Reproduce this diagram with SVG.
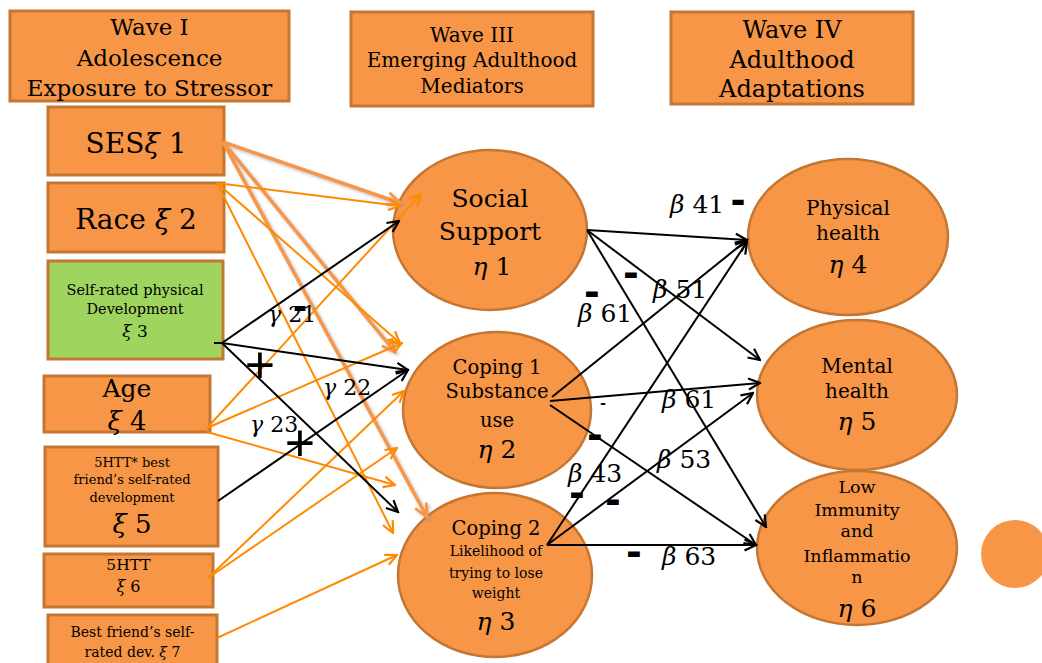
<svg xmlns="http://www.w3.org/2000/svg" width="1042" height="663" viewBox="0 0 1042 663">
<style>
.box{fill:#f79646;stroke:#c47632;stroke-width:3}
.green{fill:#9fd45f;stroke:#c47632;stroke-width:3}
.ell{fill:#f79646;stroke:#c47632;stroke-width:2.5}
text{font-family:"DejaVu Serif","Liberation Serif",serif;fill:#000}
.c{text-anchor:middle}
.g{font-style:italic}
.blk{stroke:#000;stroke-width:2;fill:none}
.brt{stroke:#ff8a00;stroke-width:2;fill:none}
.lgt{stroke:#f7964a;stroke-width:3.5;fill:none}
.dash{font-family:"Liberation Sans",Arial,sans-serif;font-weight:bold;text-anchor:middle}
.plus{font-family:"Liberation Sans",Arial,sans-serif;text-anchor:middle;font-size:52px}
</style>
<defs>
<marker id="ab" viewBox="0 0 14 14" refX="12.5" refY="7" markerWidth="14" markerHeight="14" markerUnits="userSpaceOnUse" orient="auto"><path d="M1,1.5 L12.5,7 L1,12.5" fill="none" stroke="#000" stroke-width="2.2"/></marker>
<marker id="ao" viewBox="0 0 14 14" refX="12.5" refY="7" markerWidth="14" markerHeight="14" markerUnits="userSpaceOnUse" orient="auto"><path d="M1,1.5 L12.5,7 L1,12.5" fill="none" stroke="#ff8a00" stroke-width="2.2"/></marker>
<marker id="al" viewBox="0 0 14 14" refX="12.5" refY="7" markerWidth="16" markerHeight="16" markerUnits="userSpaceOnUse" orient="auto"><path d="M1,1.5 L12.5,7 L1,12.5" fill="none" stroke="#f7964a" stroke-width="2.5"/></marker>
<filter id="sh" x="-10%" y="-10%" width="120%" height="120%"><feDropShadow dx="2" dy="2" stdDeviation="1.5" flood-color="#888" flood-opacity="0.5"/></filter>
</defs>

<g id="wave1"><rect class="box" x="10" y="11" width="279" height="90"/>
<text class="c" x="149.5" y="35" font-size="23">Wave I</text>
<text class="c" x="149.5" y="66" font-size="23">Adolescence</text>
<text class="c" x="149.5" y="96" font-size="23">Exposure to Stressor</text></g>
<g id="wave3"><rect class="box" x="351" y="12" width="242" height="94"/>
<text class="c" x="472" y="42" font-size="20">Wave III</text>
<text class="c" x="472" y="67" font-size="20">Emerging Adulthood</text>
<text class="c" x="472" y="93" font-size="20">Mediators</text></g>
<g id="wave4"><rect class="box" x="671" y="12" width="242" height="92"/>
<text class="c" x="792" y="38" font-size="24">Wave IV</text>
<text class="c" x="792" y="68" font-size="24">Adulthood</text>
<text class="c" x="792" y="97" font-size="24">Adaptations</text></g>

<g id="xi1"><rect class="box" x="48" y="107" width="176" height="68"/>
<text class="c" x="136" y="153" font-size="28">SES<tspan class="g">ξ</tspan> 1</text></g>
<g id="xi2"><rect class="box" x="48" y="183" width="176" height="69"/>
<text class="c" x="136" y="229" font-size="28">Race <tspan class="g">ξ</tspan> 2</text></g>
<g id="xi3"><rect class="green" x="48" y="261" width="175" height="98"/>
<text class="c" x="135" y="295" font-size="14.5">Self-rated physical</text>
<text class="c" x="135" y="314" font-size="14.5">Development</text>
<text class="c" x="135" y="337" font-size="17"><tspan class="g">ξ</tspan> 3</text></g>
<g id="xi4"><rect class="box" x="44" y="376" width="166" height="56"/>
<text class="c" x="127" y="397" font-size="25">Age</text>
<text class="c" x="127" y="430" font-size="26"><tspan class="g">ξ</tspan> 4</text></g>
<g id="xi5"><rect class="box" x="45" y="447" width="173" height="99"/>
<text class="c" x="132" y="467" font-size="13">5HTT* best</text>
<text class="c" x="132" y="484" font-size="13">friend’s self-rated</text>
<text class="c" x="132" y="502" font-size="13">development</text>
<text class="c" x="132" y="533" font-size="26"><tspan class="g">ξ</tspan> 5</text></g>
<g id="xi6"><rect class="box" x="44" y="554" width="169" height="53"/>
<text class="c" x="128.5" y="570" font-size="15.5">5HTT</text>
<text class="c" x="128.5" y="592" font-size="16"><tspan class="g">ξ</tspan> 6</text></g>
<g id="xi7"><rect class="box" x="48" y="615" width="169" height="52"/>
<text class="c" x="132.5" y="637" font-size="14">Best friend’s self-</text>
<text class="c" x="132.5" y="657" font-size="14">rated dev. <tspan class="g">ξ</tspan> 7</text></g>

<g id="eta1"><ellipse class="ell" cx="490" cy="230" rx="97" ry="80"/>
<text class="c" x="490" y="207" font-size="25">Social</text>
<text class="c" x="490" y="240" font-size="25">Support</text>
<text class="c" x="492" y="275" font-size="25"><tspan class="g">η</tspan> 1</text></g>
<g id="eta2"><ellipse class="ell" cx="497" cy="410" rx="94" ry="78"/>
<text class="c" x="497" y="374" font-size="19.5">Coping 1</text>
<text class="c" x="497" y="398" font-size="19.5">Substance</text>
<text class="c" x="497" y="427" font-size="19.5">use</text>
<text class="c" x="497" y="458" font-size="25"><tspan class="g">η</tspan> 2</text></g>
<g id="eta3"><ellipse class="ell" cx="495" cy="575" rx="97" ry="82"/>
<text class="c" x="496" y="535" font-size="19.5">Coping 2</text>
<text class="c" x="496" y="556" font-size="14">Likelihood of</text>
<text class="c" x="496" y="578" font-size="14">trying to lose</text>
<text class="c" x="496" y="598" font-size="14">weight</text>
<text class="c" x="496" y="630" font-size="25"><tspan class="g">η</tspan> 3</text></g>
<g id="eta4"><ellipse class="ell" cx="848" cy="237" rx="100" ry="78"/>
<text class="c" x="848" y="215" font-size="20">Physical</text>
<text class="c" x="848" y="240" font-size="20">health</text>
<text class="c" x="848" y="273" font-size="25"><tspan class="g">η</tspan> 4</text></g>
<g id="eta5"><ellipse class="ell" cx="857" cy="395" rx="100" ry="75"/>
<text class="c" x="857" y="373" font-size="20">Mental</text>
<text class="c" x="857" y="398" font-size="20">health</text>
<text class="c" x="857" y="430" font-size="25"><tspan class="g">η</tspan> 5</text></g>
<g id="eta6"><ellipse class="ell" cx="857" cy="548" rx="100" ry="77"/>
<text class="c" x="857" y="493" font-size="17.5">Low</text>
<text class="c" x="857" y="516" font-size="17.5">Immunity</text>
<text class="c" x="857" y="537" font-size="17.5">and</text>
<text class="c" x="857" y="562" font-size="17.5">Inflammatio</text>
<text class="c" x="857" y="583" font-size="17.5">n</text>
<text class="c" x="857" y="617" font-size="25"><tspan class="g">η</tspan> 6</text></g>
<g id="dot"><circle cx="1015" cy="554" r="34" fill="#f79646"/></g>

<g id="connectors">
<g filter="url(#sh)">
<path class="lgt" d="M223,142 L400,203" marker-end="url(#al)"/>
<path class="lgt" d="M223,142 L395,352" marker-end="url(#al)"/>
<path class="lgt" d="M223,142 L427,517" marker-end="url(#al)"/>
</g>
<path class="brt" d="M217,183 L400,206" marker-end="url(#ao)"/>
<path class="brt" d="M217,183 L400,343" marker-end="url(#ao)"/>
<path class="brt" d="M217,183 L393,533" marker-end="url(#ao)"/>
<path class="brt" d="M207,428 L421,194" marker-end="url(#ao)"/>
<path class="brt" d="M207,428 L402,343" marker-end="url(#ao)"/>
<path class="brt" d="M207,432 L395,485" marker-end="url(#ao)"/>
<path class="brt" d="M208,578 L404,391" marker-end="url(#ao)"/>
<path class="brt" d="M208,578 L397,448" marker-end="url(#ao)"/>
<path class="brt" d="M217,638 L397,555" marker-end="url(#ao)"/>
<path class="blk" d="M214,343 L222,343"/>
<path class="blk" d="M222,343 L399,221" marker-end="url(#ab)"/>
<path class="blk" d="M222,343 L408,370" marker-end="url(#ab)"/>
<path class="blk" d="M222,343 L398,512" marker-end="url(#ab)"/>
<path class="blk" d="M218,501 L408,370" marker-end="url(#ab)"/>
<path class="blk" d="M587,230 L747,240" marker-end="url(#ab)"/>
<path class="blk" d="M587,230 L760,360" marker-end="url(#ab)"/>
<path class="blk" d="M587,230 L766,527" marker-end="url(#ab)"/>
<path class="blk" d="M552,397 L747,240" marker-end="url(#ab)"/>
<path class="blk" d="M550,401 L760,383" marker-end="url(#ab)"/>
<path class="blk" d="M550,405 L756,545" marker-end="url(#ab)"/>
<path class="blk" d="M547,545 L747,242" marker-end="url(#ab)"/>
<path class="blk" d="M547,545 L753,393" marker-end="url(#ab)"/>
<path class="blk" d="M547,545 L756,545" marker-end="url(#ab)"/>
</g>

<g id="labels">
<text x="268" y="322" font-size="22"><tspan class="g">γ</tspan> 21</text>
<text x="323" y="395" font-size="22"><tspan class="g">γ</tspan> 22</text>
<text x="250" y="432" font-size="22"><tspan class="g">γ</tspan> 23</text>
<text x="670" y="213" font-size="25"><tspan class="g">β</tspan> 41</text>
<text x="653" y="298" font-size="25"><tspan class="g">β</tspan> 51</text>
<text x="578" y="322" font-size="25"><tspan class="g">β</tspan> 61</text>
<text x="662" y="408" font-size="25"><tspan class="g">β</tspan> 61</text>
<text x="657" y="468" font-size="25"><tspan class="g">β</tspan> 53</text>
<text x="568" y="482" font-size="25"><tspan class="g">β</tspan> 43</text>
<text x="662" y="565" font-size="25"><tspan class="g">β</tspan> 63</text>
<text class="dash" x="300" y="320" font-size="42">-</text>
<text class="dash" x="738" y="214" font-size="44">-</text>
<text class="dash" x="631" y="287" font-size="46">-</text>
<text class="dash" x="592" y="306" font-size="46">-</text>
<text class="dash" x="603" y="408" font-size="17" font-weight="normal">-</text>
<text class="dash" x="595" y="449" font-size="46">-</text>
<text class="dash" x="577" y="507" font-size="46">-</text>
<text class="dash" x="613" y="514" font-size="46">-</text>
<text class="dash" x="634" y="566" font-size="46">-</text>
<text class="plus" x="260" y="383">+</text>
<text class="plus" x="300" y="461">+</text>
</g>
</svg>
